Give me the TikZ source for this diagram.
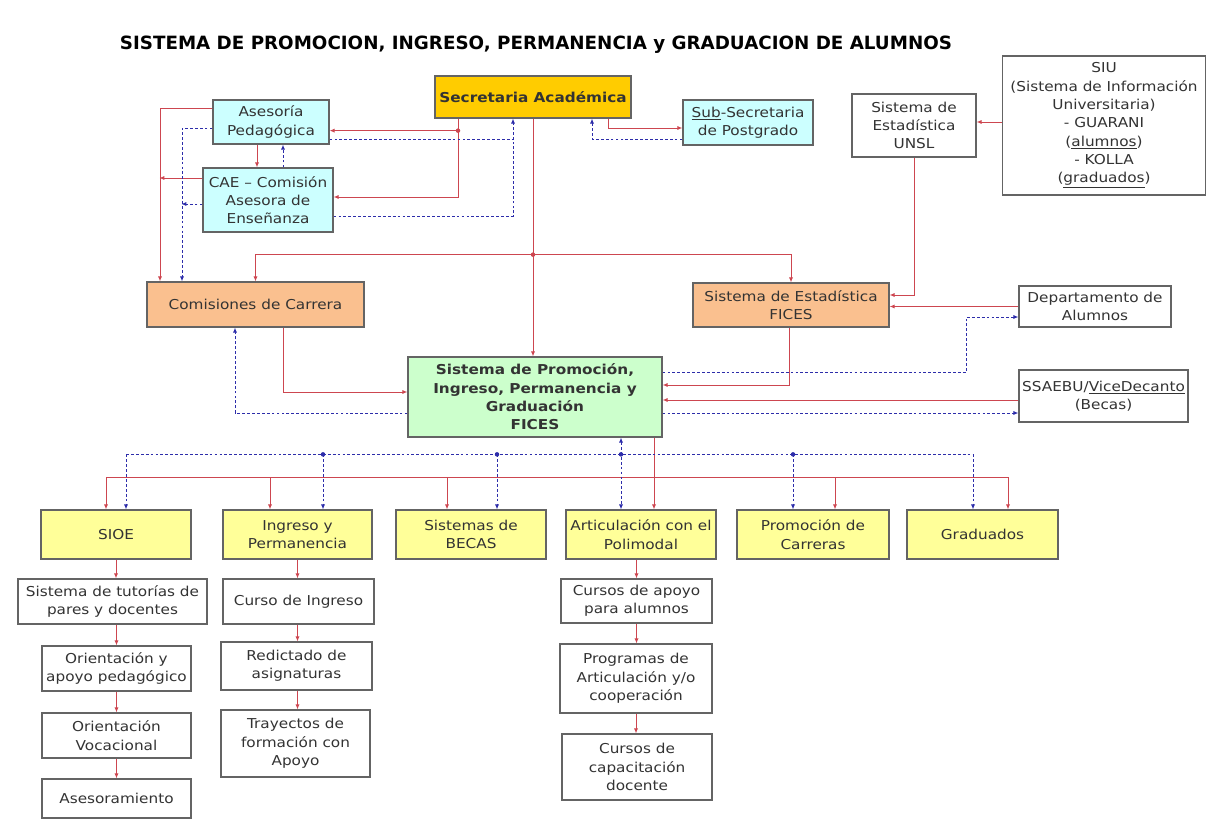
\documentclass[tikz,border=0pt]{standalone}
\usepackage{fontspec}
\setmainfont{DejaVu Sans}
\newfontfamily\boxfont[FakeStretch=1.12]{DejaVu Sans}
\usetikzlibrary{calc,arrows.meta}
\definecolor{ficesgold}{RGB}{255,204,0}
\definecolor{ficescyan}{RGB}{204,255,255}
\definecolor{ficesorange}{RGB}{250,192,143}
\definecolor{ficesgreen}{RGB}{204,255,204}
\definecolor{ficesyellow}{RGB}{255,255,153}
\definecolor{ficesred}{RGB}{205,70,80}
\definecolor{ficesblue}{RGB}{45,45,170}
\definecolor{ficesframe}{RGB}{100,100,100}

\begin{document}
\begin{tikzpicture}[x=0.025cm,y=-0.025cm,
    wh/.style 2 args={minimum width=#1*0.025cm,minimum height=#2*0.025cm},
    box/.style={draw=ficesframe,line width=0.9pt,align=center,inner sep=1pt,
        font=\boxfont\fontsize{9.7}{13}\selectfont,text=black!80},
    boldbox/.style={box,font=\boxfont\bfseries\fontsize{9.7}{13}\selectfont},
    rline/.style={draw=ficesred,line width=0.7pt},
    rarr/.style={rline,-{Latex[length=3.5pt,width=3pt]}},
    bline/.style={draw=ficesblue,line width=0.7pt,dash pattern=on 2pt off 1.5pt},
    barr/.style={bline,-{Latex[length=3.5pt,width=3pt]}},
    bboth/.style={bline,{Latex[length=3.5pt,width=3pt]}-{Latex[length=3.5pt,width=3pt]}}]
    \useasboundingbox (0,0) rectangle (1207,821);

    \node[font=\bfseries\fontsize{13}{15}\selectfont] (title) at (536,45)
        {SISTEMA DE PROMOCION, INGRESO, PERMANENCIA y GRADUACION DE ALUMNOS};

    % upper part
    \node[boldbox,wh={196}{42},fill=ficesgold] (sec) at (533,97) {Secretaria Académica};
    \node[box,wh={116}{44},fill=ficescyan] (asp) at (271,122) {Asesoría\\Pedagógica};
    \node[box,wh={130}{64},fill=ficescyan] (cae) at (268,200) {CAE – Comisión\\Asesora de\\Enseñanza};
    \node[box,wh={130}{45},fill=ficescyan] (sub) at (748,122.5) {\underline{Sub}-Secretaria\\de Postgrado};
    \node[box,wh={124}{63},fill=white] (unsl) at (914,125.5) {Sistema de\\Estadística\\UNSL};
    \node[box,wh={203}{139},fill=white] (siu) at (1104,125.5)
        {SIU\\(Sistema de Información\\Universitaria)\\- GUARANI\\(\underline{alumnos})\\- KOLLA\\(\underline{graduados})};

    % middle part
    \node[box,wh={217}{45},fill=ficesorange] (com) at (255.5,304.5) {Comisiones de Carrera};
    \node[box,wh={196}{44},fill=ficesorange] (fices) at (791,305) {Sistema de Estadística\\FICES};
    \node[box,wh={152}{41},fill=white] (dep) at (1095,306.5) {Departamento de\\Alumnos};
    \node[boldbox,wh={254}{80},fill=ficesgreen] (spipg) at (535,397)
        {Sistema de Promoción,\\Ingreso, Permanencia y\\Graduación\\FICES};
    \node[box,wh={169}{52},fill=white] (ssa) at (1103.5,396) {SSAEBU/\underline{ViceDecanto}\\(Becas)};

    % programs
    \node[box,wh={150}{49},fill=ficesyellow] (sioe) at (116,534.5) {SIOE};
    \node[box,wh={149}{49},fill=ficesyellow] (ing) at (297.5,534.5) {Ingreso y\\Permanencia};
    \node[box,wh={150}{49},fill=ficesyellow] (bec) at (471,534.5) {Sistemas de\\BECAS};
    \node[box,wh={150}{49},fill=ficesyellow] (art) at (641,534.5) {Articulación con el\\Polimodal};
    \node[box,wh={152}{49},fill=ficesyellow] (pro) at (813,534.5) {Promoción de\\Carreras};
    \node[box,wh={151}{49},fill=ficesyellow] (gra) at (982.5,534.5) {Graduados};

    \node[box,wh={189}{45}] (tut) at (112.5,601.5) {Sistema de tutorías de\\pares y docentes};
    \node[box,wh={149}{45}] (ori) at (116.5,668.5) {Orientación y\\apoyo pedagógico};
    \node[box,wh={149}{45}] (voc) at (116.5,735.5) {Orientación\\Vocacional};
    \node[box,wh={149}{39}] (ase) at (116.5,798.5) {Asesoramiento};

    \node[box,wh={151}{45}] (cur) at (298.5,601.5) {Curso de Ingreso};
    \node[box,wh={151}{48}] (red) at (296.5,666) {Redictado de\\asignaturas};
    \node[box,wh={149}{67}] (tra) at (295.5,743.5) {Trayectos de\\formación con\\Apoyo};

    \node[box,wh={151}{44}] (cap) at (636.5,601) {Cursos de apoyo\\para alumnos};
    \node[box,wh={152}{69}] (pac) at (636,678.5) {Programas de\\Articulación y/o\\cooperación};
    \node[box,wh={150}{66}] (doc) at (637,767) {Cursos de\\capacitación\\docente};

    % secretaria and advisers
    \draw[rarr] ($(sec.south)+(-75,0)$) |- ($(cae.east)+(0,-3)$);
    \draw[rarr] ($(sec.south)+(-75,12)$) coordinate (jasp) -- (jasp -| asp.east);
    \fill[ficesred] (jasp) circle (1.6pt);
    \draw[barr] ($(cae.east)+(0,16)$) -| ($(sec.south)+(-20,0)$);
    \draw[bline] ($(asp.east)+(0,17)$) -- ($(asp.east)+(184,17)$);
    \draw[rarr] ($(asp.south)+(-14,0)$) -- ($(cae.north)+(-11,0)$);
    \draw[barr] ($(cae.north)+(15,0)$) -- ($(asp.south)+(12,0)$);
    \draw[rarr] ($(asp.west)+(0,-14)$) -| ($(com.north)+(-95.5,0)$);
    \draw[rarr] ($(cae.west)+(0,-22)$) -- ($(cae.west)+(-43,-22)$);
    \draw[barr] ($(asp.west)+(0,6)$) -| ($(com.north)+(-73.5,0)$);
    \draw[barr] ($(cae.west)+(0,4)$) -- ($(cae.west)+(-21,4)$);
    \draw[rarr] ($(sec.south)+(75,0)$) |- ($(sub.west)+(0,5.5)$);
    \draw[barr] ($(sub.west)+(0,16.5)$) -| ($(sec.south)+(59,0)$);

    % secretaria down to the system
    \draw[rarr] (sec.south) -- (sec.south |- spipg.north);
    \coordinate (hub) at ($(sec.south)+(0,136)$);
    \draw[rarr] (hub) -| (com.north);
    \draw[rarr] (hub) -| (fices.north);
    \fill[ficesred] (hub) circle (1.6pt);

    % statistics
    \draw[rarr] ($(siu.west)+(0,-3.5)$) -- ($(unsl.east)+(0,-3.5)$);
    \draw[rarr] (unsl.south) |- ($(fices.east)+(0,-10)$);
    \draw[rarr,line width=1.2pt] (dep.west) -- (dep.west -| fices.east);
    \draw[barr] ($(spipg.east)+(0,-25)$) -| ($(dep.west)+(-52,10.5)$) -- ($(dep.west)+(0,10.5)$);
    \draw[rarr] ($(fices.south)+(-2,0)$) |- ($(spipg.east)+(0,-12)$);
    \draw[rarr] ($(ssa.west)+(0,4)$) -- ($(spipg.east)+(0,3)$);
    \draw[barr] ($(spipg.east)+(0,16)$) -- ($(ssa.west)+(0,17)$);
    \draw[rarr] ($(com.south)+(27.5,0)$) |- ($(spipg.west)+(0,-5)$);
    \draw[barr] ($(spipg.west)+(0,16)$) -| ($(com.south)+(-20.5,0)$);

    % buses to the programs
    \draw[rarr] ($(spipg.south)+(119,0)$) -- ($(art.north)+(13,0)$);
    \coordinate (rl) at ($(sioe.north)+(-10,-32)$);
    \coordinate (rr) at ($(gra.north)+(25.5,-32)$);
    \draw[rline] (rl) -- (rr);
    \draw[rarr] (rl) -- ($(sioe.north)+(-10,0)$);
    \draw[rarr] ($(ing.north)+(-27.5,-32)$) -- ($(ing.north)+(-27.5,0)$);
    \draw[rarr] ($(bec.north)+(-24,-32)$) -- ($(bec.north)+(-24,0)$);
    \draw[rarr] ($(pro.north)+(22,-32)$) -- ($(pro.north)+(22,0)$);
    \draw[rarr] (rr) -- ($(gra.north)+(25.5,0)$);

    \draw[bboth] ($(spipg.south)+(86,0)$) -- ($(art.north)+(-20,0)$);
    \coordinate (bl) at ($(sioe.north)+(10,-55)$);
    \coordinate (br) at ($(gra.north)+(-9.5,-55)$);
    \draw[bline] (bl) -- (br);
    \draw[barr] (bl) -- ($(sioe.north)+(10,0)$);
    \draw[barr] ($(ing.north)+(25.5,-55)$) -- ($(ing.north)+(25.5,0)$);
    \draw[barr] ($(bec.north)+(26,-55)$) -- ($(bec.north)+(26,0)$);
    \draw[barr] ($(pro.north)+(-20,-55)$) -- ($(pro.north)+(-20,0)$);
    \draw[barr] (br) -- ($(gra.north)+(-9.5,0)$);
    \fill[ficesblue] ($(ing.north)+(25.5,-55)$) circle (1.6pt);
    \fill[ficesblue] ($(bec.north)+(26,-55)$) circle (1.6pt);
    \fill[ficesblue] ($(art.north)+(-20,-55)$) circle (1.6pt);
    \fill[ficesblue] ($(pro.north)+(-20,-55)$) circle (1.6pt);

    % chains below the programs
    \draw[rarr] (sioe.south) -- (sioe.south |- tut.north);
    \draw[rarr] (tut.south -| ori.north) -- (ori.north);
    \draw[rarr] (ori.south) -- (voc.north);
    \draw[rarr] (voc.south) -- (ase.north);

    \draw[rarr] (ing.south) -- (ing.south |- cur.north);
    \draw[rarr] (ing.south |- cur.south) -- (ing.south |- red.north);
    \draw[rarr] (ing.south |- red.south) -- (ing.south |- tra.north);

    \draw[rarr] (cap.north |- art.south) -- (cap.north);
    \draw[rarr] (cap.south) -- (cap.south |- pac.north);
    \draw[rarr] (pac.south) -- (pac.south |- doc.north);
\end{tikzpicture}
\end{document}
